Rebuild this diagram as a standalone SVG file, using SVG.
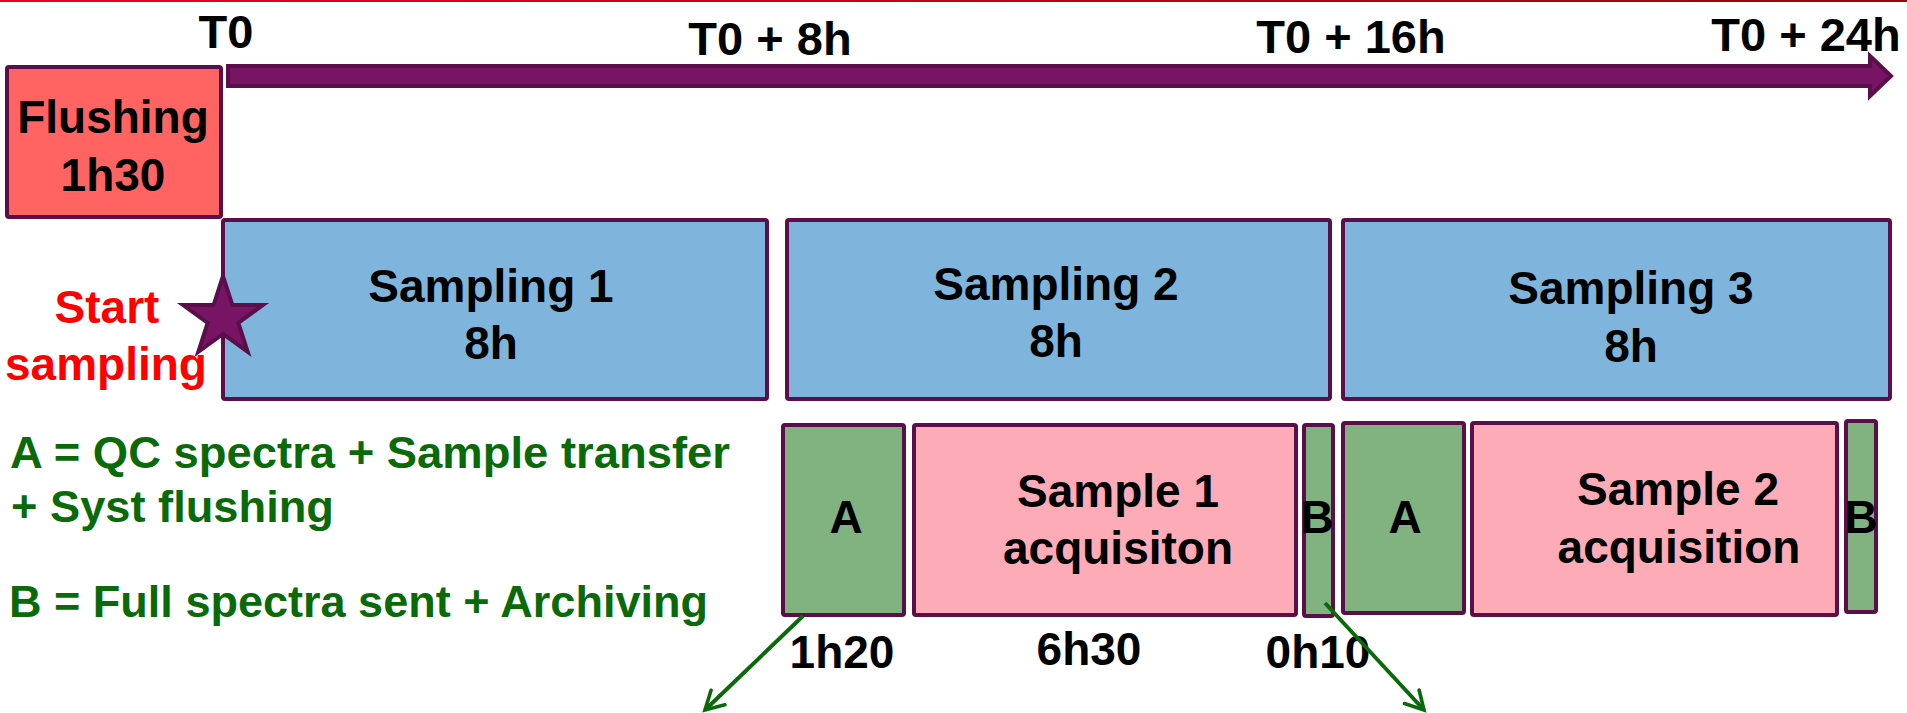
<svg xmlns="http://www.w3.org/2000/svg" width="1907" height="713" viewBox="0 0 1907 713">
<style>
text{font-family:"Liberation Sans",Arial,sans-serif;font-weight:bold;}
.lbl{font-size:47px;fill:#000;text-anchor:middle;}
.bx{font-size:46px;fill:#000;text-anchor:middle;}
.leg{font-size:45px;fill:#0A6A0A;}
.red{font-size:46px;fill:#FF0000;text-anchor:middle;}
.box{stroke:#5A0F4A;stroke-width:4;stroke-linejoin:round;}
.samp{fill:#7FB4DC;}
.pink{fill:#FDABB7;}
.grn{fill:#80B380;}
.conn{stroke:#0A6A0A;stroke-width:4;fill:none;marker-end:url(#arr);}
</style>
<defs>
<linearGradient id="topline" x1="0" y1="0" x2="1" y2="0">
<stop offset="0" stop-color="#E8002A"/>
<stop offset="1" stop-color="#A0000F"/>
</linearGradient>
<marker id="arr" viewBox="0 0 12 12" refX="10" refY="6" markerWidth="6" markerHeight="6" orient="auto" markerUnits="strokeWidth">
<path d="M1,1 L10,6 L1,11" fill="none" stroke="#0A6A0A" stroke-width="1.8" stroke-linecap="round"/>
</marker>
</defs>
<rect x="0" y="0" width="1907" height="713" fill="#FFFFFF"/>
<rect x="0" y="0" width="1907" height="2" fill="url(#topline)"/>

<g id="timeline">
<polygon points="228,66 1870,66 1870,56 1891,76 1870,96 1870,86 228,86" fill="#781464" stroke="#5A0F4A" stroke-width="4" stroke-linejoin="miter"/>
<text class="lbl" x="226" y="48">T0</text>
<text class="lbl" x="770" y="55">T0 + 8h</text>
<text class="lbl" x="1351" y="53">T0 + 16h</text>
<text class="lbl" x="1806" y="51">T0 + 24h</text>
</g>

<g id="flushing">
<rect class="box" x="7" y="67" width="214" height="150" rx="2" fill="#FF6462"/>
<text class="bx" x="113" y="133">Flushing</text>
<text class="bx" x="113" y="191">1h30</text>
</g>

<g id="sampling1">
<rect class="box samp" x="223" y="220" width="544" height="179" rx="2"/>
<text class="bx" x="491" y="302" font-size="47">Sampling 1</text>
<text class="bx" x="491" y="359" font-size="47">8h</text>
</g>

<g id="sampling2">
<rect class="box samp" x="787" y="220" width="543" height="179" rx="2"/>
<text class="bx" x="1056" y="300" font-size="47">Sampling 2</text>
<text class="bx" x="1056" y="357" font-size="47">8h</text>
</g>

<g id="sampling3">
<rect class="box samp" x="1343" y="220" width="547" height="179" rx="2"/>
<text class="bx" x="1631" y="304" font-size="47">Sampling 3</text>
<text class="bx" x="1631" y="362" font-size="47">8h</text>
</g>

<g id="start">
<polygon points="223,276 232.4,305 262.9,305 238.3,322.9 247.7,351.9 223,334 198.3,351.9 207.7,322.9 183.1,305 213.6,305" fill="#781464" stroke="#5A0F4A" stroke-width="4" stroke-linejoin="miter"/>
<text class="red" x="107" y="323">Start</text>
<text class="red" x="106" y="380">sampling</text>
</g>

<g id="a1">
<rect class="box grn" x="783" y="425" width="121" height="190" rx="2"/>
<text class="bx" x="846" y="533">A</text>
</g>

<g id="acq1">
<rect class="box pink" x="914" y="425" width="382" height="190" rx="2"/>
<text class="bx" x="1118" y="507">Sample 1</text>
<text class="bx" x="1118" y="564">acquisiton</text>
</g>

<g id="b1">
<rect class="box grn" x="1304" y="425" width="29" height="191" rx="2"/>
<text class="bx" x="1317" y="533">B</text>
</g>

<g id="a2">
<rect class="box grn" x="1343" y="423" width="121" height="190" rx="2"/>
<text class="bx" x="1405" y="533">A</text>
</g>

<g id="acq2">
<rect class="box pink" x="1472" y="423" width="365" height="192" rx="2"/>
<text class="bx" x="1678" y="505">Sample 2</text>
<text class="bx" x="1679" y="563">acquisition</text>
</g>

<g id="b2">
<rect class="box grn" x="1846" y="421" width="30" height="191" rx="2"/>
<text class="bx" x="1861" y="533">B</text>
</g>

<g id="durations">
<text class="bx" x="842" y="668">1h20</text>
<text class="bx" x="1089" y="665">6h30</text>
<text class="bx" x="1318" y="668">0h10</text>
</g>

<g id="legend">
<text class="leg" x="10" y="468" textLength="720" lengthAdjust="spacingAndGlyphs">A = QC spectra + Sample transfer</text>
<text class="leg" x="11" y="522" textLength="323" lengthAdjust="spacingAndGlyphs">+ Syst flushing</text>
<text class="leg" x="9" y="617" textLength="699" lengthAdjust="spacingAndGlyphs">B = Full spectra sent + Archiving</text>
</g>

<g id="connectors">
<line class="conn" x1="803" y1="616" x2="705" y2="710"/>
<line class="conn" x1="1325" y1="603" x2="1424" y2="710"/>
</g>
</svg>
